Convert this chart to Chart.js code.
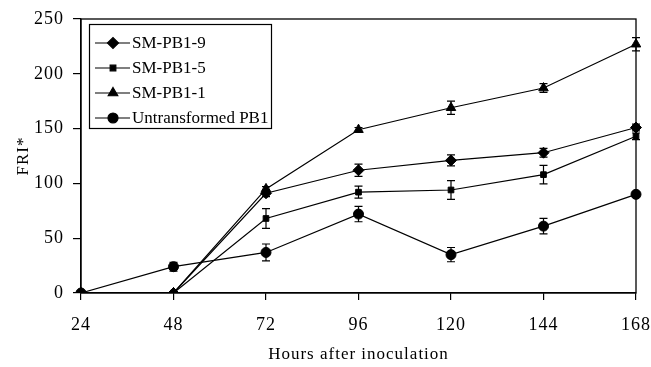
<!DOCTYPE html>
<html><head><meta charset="utf-8">
<script src="https://cdn.jsdelivr.net/npm/chart.js@4.4.0/dist/chart.umd.min.js"></script>
<style>html,body{margin:0;padding:0;background:#fff}#wrap{width:651px;height:367px}</style>
</head><body><div id="wrap"><canvas id="c" width="651" height="367"></canvas></div>
<script>
const hours = ['24','48','72','96','120','144','168'];
const seriesNames = ['SM-PB1-9','SM-PB1-5','SM-PB1-1','Untransformed PB1'];
const sm9 = [0,0,91,112,121,128,151];
const sm5 = [0,0,68,92,94,108,143];
const sm1 = [0,0,95,149,169,187,227];
const untr = [0,24,37,72,35,61,90];
const sm9Err = [0,0,3,5.5,5,4,3];
const sm5Err = [0,0,9,5.5,8.5,8.5,3];
const sm1Err = [0,0,2,2,6,4,6];
const untrErr = [0,4,7.7,7,6.5,7,2];
const yTicks = [0,50,100,150,200,250];

const FONT = 'Liberation Serif';
const styles = ['rectRot','rect','triangle','circle'];
const radii = [5.5,4,5.5,5];
const vals = [sm9, sm5, sm1, untr];
const errs = [sm9Err, sm5Err, sm1Err, untrErr];

const spacing = {
  id:'spacing',
  beforeDraw(chart){ chart.ctx.letterSpacing='1px'; }
};
const errorBars = {
  id:'errorBars',
  afterDatasetsDraw(chart){
    const ctx = chart.ctx, y = chart.scales.y, x = chart.scales.x;
    ctx.save(); ctx.strokeStyle='#000'; ctx.lineWidth=1.2;
    chart.data.datasets.forEach((ds,di)=>{
      const e = errs[di];
      ds.data.forEach((v,i)=>{
        if(!e[i]) return;
        const px = x.getPixelForValue(i);
        const y1 = y.getPixelForValue(v+e[i]), y2 = y.getPixelForValue(v-e[i]);
        ctx.beginPath();
        ctx.moveTo(px,y1); ctx.lineTo(px,y2);
        ctx.moveTo(px-4,y1); ctx.lineTo(px+4,y1);
        ctx.moveTo(px-4,y2); ctx.lineTo(px+4,y2);
        ctx.stroke();
      });
    });
    ctx.restore();
  }
};
const frameLegend = {
  id:'frameLegend',
  afterDraw(chart){
    const ctx = chart.ctx, a = chart.chartArea;
    ctx.save();
    ctx.letterSpacing='0px';
    ctx.strokeStyle='#000'; ctx.lineWidth=1.3;
    ctx.strokeRect(a.left, a.top, a.right-a.left, a.bottom-a.top);
    const lx = 89, ly = 24, lw = 182, lh = 104;
    ctx.lineWidth=1.2;
    ctx.strokeRect(lx+0.5, ly+0.5, lw, lh);
    ctx.font = '17px "'+FONT+'"';
    ctx.textBaseline='middle'; ctx.fillStyle='#000';
    chart.data.datasets.forEach((ds,i)=>{
      const yy = ly + 19 + i*25;
      ctx.beginPath(); ctx.moveTo(lx+6,yy); ctx.lineTo(lx+41,yy); ctx.stroke();
      Chart.helpers.drawPoint(ctx,{pointStyle:ds.pointStyle,radius:ds.pointRadius,borderWidth:1,rotation:0},lx+24,yy);
      ctx.fillText(ds.label, lx+43, yy+1);
    });
    ctx.restore();
  }
};

new Chart(document.getElementById('c'),{
  type:'line',
  data:{labels:hours,datasets:seriesNames.map((n,i)=>({
    label:n,data:vals[i],borderColor:'#000',backgroundColor:'#000',borderWidth:1.2,
    pointStyle:styles[i],pointRadius:radii[i],pointHoverRadius:radii[i],pointBorderColor:'#000',pointBackgroundColor:'#000',pointBorderWidth:1,tension:0,fill:false
  }))},
  options:{
    responsive:false,animation:false,devicePixelRatio:1,
    layout:{padding:{top:19,right:15,left:0,bottom:0}},
    plugins:{legend:{display:false},tooltip:{enabled:false}},
    scales:{
      x:{type:'category',offset:false,
        grid:{drawOnChartArea:false,drawTicks:true,tickLength:7,color:'#000',lineWidth:1.2},
        border:{display:true,color:'#000',width:1.3},
        ticks:{color:'#000',font:{family:FONT,size:18},padding:14,maxRotation:0,autoSkip:false},
        title:{display:true,text:'Hours after inoculation',color:'#000',font:{family:FONT,size:17},padding:{top:2,bottom:2}},
        afterFit(s){s.height=74;s.paddingLeft=0;s.paddingRight=0;}
      },
      y:{min:0,max:250,
        afterBuildTicks(s){s.ticks=yTicks.map(v=>({value:v}));},
        grid:{drawOnChartArea:false,drawTicks:true,tickLength:8,color:'#000',lineWidth:1.2},
        border:{display:true,color:'#000',width:1.3},
        ticks:{color:'#000',font:{family:FONT,size:18},padding:9},
        title:{display:true,text:'FRI*',color:'#000',font:{family:FONT,size:17},padding:{top:13}},
        afterFit(s){s.width=81;s.paddingTop=0;s.paddingBottom=0;}
      }
    }
  },
  plugins:[spacing,errorBars,frameLegend]
});
</script></body></html>
